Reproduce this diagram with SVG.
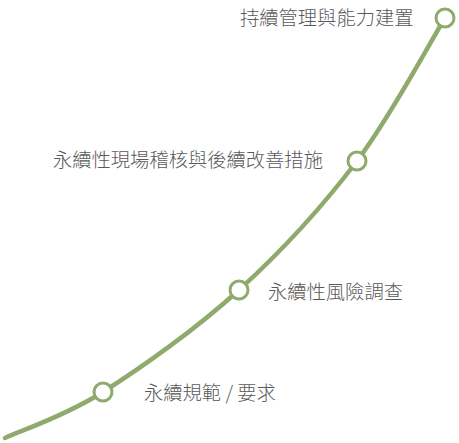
<svg xmlns="http://www.w3.org/2000/svg" width="459" height="443" viewBox="0 0 459 443">
<style>
.curve{fill:none;stroke:#8faa6c;stroke-width:4.5;stroke-linecap:round}
.dot{fill:#ffffff;stroke:#8faa6c;stroke-width:3}
.lbl{font-family:"Noto Sans CJK TC","Liberation Sans",sans-serif;font-weight:300;font-size:19.3px;fill:#595959}
</style>
<rect width="459" height="443" fill="#ffffff"/>
<g id="connectors">
<path class="curve" d="M5,438 C21.3,430.3 64,416.7 103,392 C142,367.3 196.7,328.5 239,290 C281.3,251.5 322.7,206.3 357,161 C391.3,115.7 430.3,41.8 445,18"/>
</g>
<g id="n1"><circle class="dot" cx="103" cy="392" r="9"/><text class="lbl" x="144" y="400">永續規範 / 要求</text></g>
<g id="n2"><circle class="dot" cx="239" cy="290" r="9"/><text class="lbl" x="268" y="299">永續性風險調查</text></g>
<g id="n3"><circle class="dot" cx="357" cy="161" r="9"/><text class="lbl" x="53" y="167">永續性現場稽核與後續改善措施</text></g>
<g id="n4"><circle class="dot" cx="445" cy="18" r="9"/><text class="lbl" x="240" y="25">持續管理與能力建置</text></g>
</svg>
